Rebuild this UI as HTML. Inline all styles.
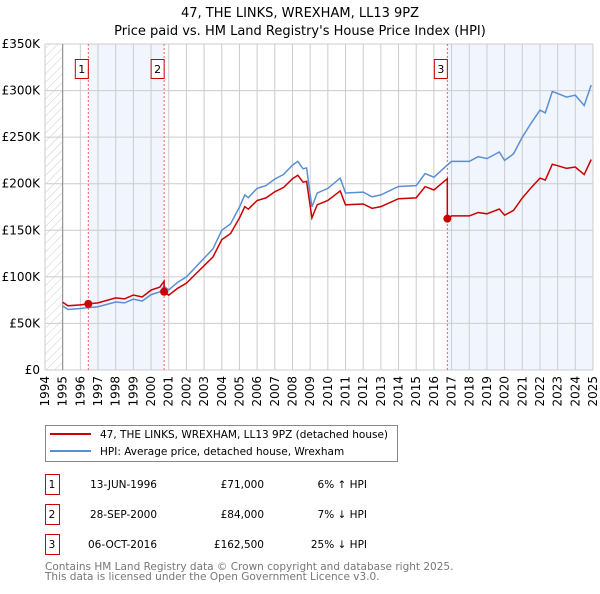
<!DOCTYPE html>
<html><head><meta charset="utf-8"><style>
body{margin:0;background:#fff;font-family:"DejaVu Sans","Liberation Sans",sans-serif;}
svg text{font-family:"DejaVu Sans","Liberation Sans",sans-serif;}
</style></head><body>
<svg id="chart" width="600" height="590" xmlns="http://www.w3.org/2000/svg">
<text x="300" y="17" text-anchor="middle" font-size="13">47, THE LINKS, WREXHAM, LL13 9PZ</text>
<text x="300" y="35" text-anchor="middle" font-size="13">Price paid vs. HM Land Registry's House Price Index (HPI)</text>
<defs><pattern id="hatch" width="6" height="6" patternUnits="userSpaceOnUse" patternTransform="rotate(45)"><line x1="0" y1="0" x2="0" y2="6" stroke="#ccc" stroke-width="1"/></pattern></defs>
<g id="grid"></g><g id="marks"></g>
<g>
<rect x="45.5" y="425.5" width="352" height="36" fill="#fff" stroke="#888"/>
<line x1="50" y1="434" x2="91" y2="434" stroke="#cc0000" stroke-width="2"/>
<text x="100" y="438" font-size="10.5">47, THE LINKS, WREXHAM, LL13 9PZ (detached house)</text>
<line x1="50" y1="451" x2="91" y2="451" stroke="#5b8fd4" stroke-width="2"/>
<text x="100" y="455" font-size="10.5">HPI: Average price, detached house, Wrexham</text>
</g>
<g id="table" font-size="10.5"></g>
<text x="45" y="570" font-size="10.5" fill="#777">Contains HM Land Registry data © Crown copyright and database right 2025.</text>
<text x="45" y="580" font-size="10.5" fill="#777">This data is licensed under the Open Government Licence v3.0.</text>
</svg>
<script>
const hpiYears=[1995,1995.3,1996,1996.45,1997,1998,1998.5,1999,1999.5,2000,2000.5,2000.74,2001,2001.5,2002,2002.5,2003,2003.5,2004,2004.5,2005,2005.3,2005.5,2006,2006.5,2007,2007.5,2008,2008.3,2008.6,2008.8,2009.1,2009.4,2010,2010.7,2011,2012,2012.5,2013,2014,2015,2015.5,2016,2016.76,2017,2018,2018.5,2019,2019.7,2020,2020.5,2021,2021.5,2022,2022.3,2022.7,2023,2023.5,2024,2024.5,2024.9];
const hpiValues=[68.7,65,66,67,68,73,72,76,74,81,84,90,86,94,100,110,120,130,150,157,175,188,185,195,198,205,210,220,224,216,217,175,190,195,206,190,191,186,188,197,198,211,207,220,224,224,229,227,234,225,232,250,265,279,276,299,297,293,295,284,306];
const saleYears=[1996.45,2000.74,2016.76];
const salePrices=[71000,84000,162500];
const saleLabels=["1","2","3"];
const saleDates=["13-JUN-1996","28-SEP-2000","06-OCT-2016"];
const salePriceText=["£71,000","£84,000","£162,500"];
const saleHpiText=["6% ↑ HPI","7% ↓ HPI","25% ↓ HPI"];
const yTicks=[0,50,100,150,200,250,300,350];
const yTickLabels=["£0","£50K","£100K","£150K","£200K","£250K","£300K","£350K"];
const xTicks=[1994,1995,1996,1997,1998,1999,2000,2001,2002,2003,2004,2005,2006,2007,2008,2009,2010,2011,2012,2013,2014,2015,2016,2017,2018,2019,2020,2021,2022,2023,2024,2025];
const X0=45,X1=593,Y0=370,Y1=44;
const xs=y=>X0+(y-1994)/31*(X1-X0);
const ys=v=>Y0-v/350*(Y0-Y1);
const NS="http://www.w3.org/2000/svg";
function mk(tag,attrs,parent){const e=document.createElementNS(NS,tag);for(const k in attrs)e.setAttribute(k,attrs[k]);parent.appendChild(e);return e;}
const grid=document.getElementById('grid'),marks=document.getElementById('marks');
let r=mk('rect',{x:X0,y:Y1,width:xs(1995)-X0,height:Y0-Y1,fill:'url(#hatch)'},grid);


r=mk('rect',{x:xs(saleYears[0]),y:Y1,width:xs(saleYears[1])-xs(saleYears[0]),height:Y0-Y1,fill:'#eef3fc',opacity:0.8},grid);


r=mk('rect',{x:xs(saleYears[2]),y:Y1,width:X1-xs(saleYears[2]),height:Y0-Y1,fill:'#eef3fc',opacity:0.8},grid);


yTicks.forEach((t,i)=>{
 let l=mk('line',{x1:X0,x2:X1,y1:ys(t),y2:ys(t),stroke:'#ccc'},grid);
 
 
 let tx=mk('text',{x:X0-5,y:ys(t)+4,'text-anchor':'end','font-size':12},grid);
 tx.textContent=yTickLabels[i];
 
 
});
xTicks.forEach(t=>{
 let l=mk('line',{x1:xs(t),x2:xs(t),y1:Y1,y2:Y0,stroke:'#ccc'},grid);
 
 
 let tx=mk('text',{x:0,y:0,'text-anchor':'end','font-size':12,transform:`translate(${xs(t)+4},${Y0+6}) rotate(-90)`},grid);
 tx.textContent=t;
 
 
});
let ax=mk('line',{x1:xs(1995),x2:xs(1995),y1:Y1,y2:Y0,stroke:'#888'},grid);


function hpiAt(y){for(let i=0;i<hpiYears.length-1;i++){if(y>=hpiYears[i]&&y<=hpiYears[i+1]){const f=(y-hpiYears[i])/(hpiYears[i+1]-hpiYears[i]);return hpiValues[i]+f*(hpiValues[i+1]-hpiValues[i]);}}return hpiValues[hpiValues.length-1];}
saleYears.forEach((s,i)=>{
 let l=mk('line',{x1:xs(s),x2:xs(s),y1:Y1,y2:Y0,stroke:'#f06060','stroke-dasharray':'2,2'},marks);
 
 
 let b=mk('rect',{x:xs(s)-13,y:59.5,width:13,height:19,fill:'#fff',stroke:'#cc0000'},marks);
 
 
 let t=mk('text',{x:xs(s)-6.5,y:73,'text-anchor':'middle','font-size':11},marks);
 t.textContent=saleLabels[i];
 
 
});
let p=mk('path',{d:hpiYears.map((y,i)=>(i?'L':'M')+xs(y).toFixed(1)+','+ys(hpiValues[i]).toFixed(1)).join(''),fill:'none',stroke:'#5b8fd4','stroke-width':1.5},marks);


function ratioFor(y){let k=0;for(let i=0;i<saleYears.length;i++)if(y>=saleYears[i])k=i;return salePrices[k]/1000/hpiAt(saleYears[k]);}
let pts=[];
hpiYears.forEach((y,i)=>{
 saleYears.forEach((s,k)=>{if(k>0&&i>0&&hpiYears[i-1]<s&&y>=s){pts.push([s,hpiAt(s)*salePrices[k-1]/1000/hpiAt(saleYears[k-1])]);pts.push([s,salePrices[k]/1000]);}});
 pts.push([y,hpiValues[i]*ratioFor(y)]);
});
p=mk('path',{d:pts.map((q,i)=>(i?'L':'M')+xs(q[0]).toFixed(1)+','+ys(q[1]).toFixed(1)).join(''),fill:'none',stroke:'#cc0000','stroke-width':1.5},marks);


saleYears.forEach((s,i)=>{
 let c=mk('circle',{cx:xs(s),cy:ys(salePrices[i]/1000),r:4,fill:'#cc0000'},marks);
 
 
});
const tb=document.getElementById('table');
saleLabels.forEach((lb,i)=>{
 const y=488+i*30;
 let b=mk('rect',{x:45.5,y:y-13.5,width:14,height:20,fill:'#fff',stroke:'#cc0000'},tb);
 
 
 const cells=[[52,lb,'middle'],[157,saleDates[i],'end'],[264,salePriceText[i],'end'],[367,saleHpiText[i],'end']];
 cells.forEach(c=>{let t=mk('text',{x:c[0],y:y,'text-anchor':c[2],'font-size':10.5},tb);t.textContent=c[1];
 
 });
});
</script>
</body></html>
